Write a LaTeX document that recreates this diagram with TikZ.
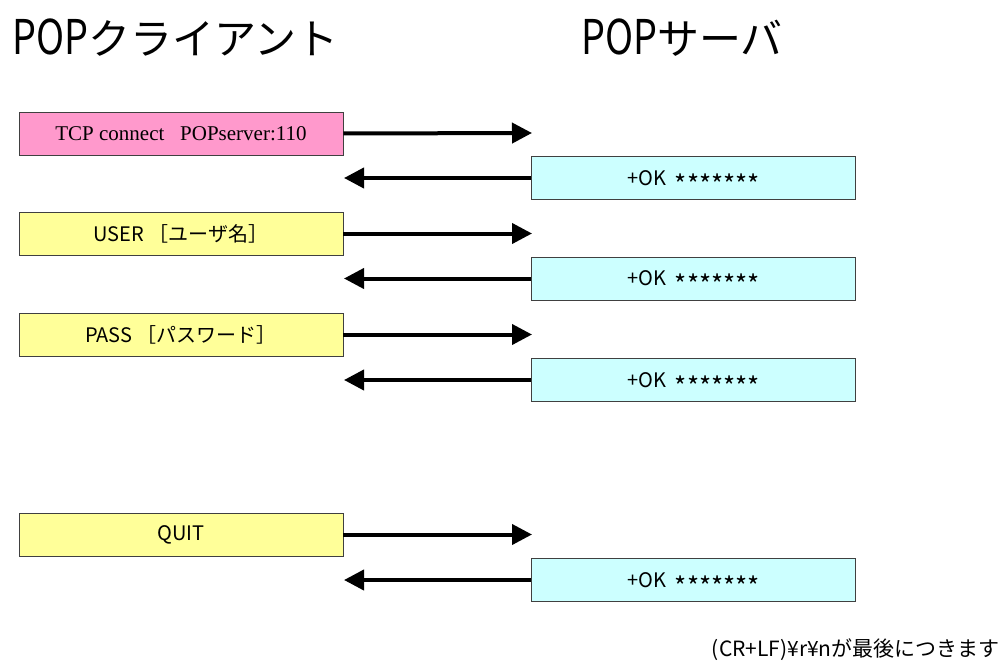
\documentclass[tikz,border=0pt]{standalone}
\usepackage{graphicx}
\usepackage{fontspec}
\setmainfont{Liberation Serif}
\newfontfamily\jp{Noto Sans CJK JP}
\usetikzlibrary{arrows.meta}
\definecolor{reqpink}{HTML}{FF99CC}
\definecolor{reqyellow}{HTML}{FFFF99}
\definecolor{respcyan}{HTML}{CCFFFF}
\definecolor{boxedge}{HTML}{404040}
% narrow, tall Latin letters for the headings
\newcommand\hwlatin[1]{\scalebox{0.9}[1.14]{#1}}
% larger asterisks set on the middle of the line
\newcommand\stars{\smash{\raisebox{-0.45em}{\scalebox{1.3}{*******}}}}
\tikzset{
  msgbox/.style={draw=boxedge, line width=0.9pt, minimum width=324pt, minimum height=43pt,
    inner sep=0pt, font=\jp\fontsize{20}{20}\selectfont},
  client/.style={msgbox, fill=reqyellow},
  server/.style={msgbox, fill=respcyan},
  msg/.style={line width=4pt, -{Triangle[length=20pt,width=20pt]}},
  title/.style={anchor=base west, inner sep=0pt, font=\jp\fontsize{42}{42}\selectfont}
}
\begin{document}
\begin{tikzpicture}[x=1pt,y=-1pt]
  \useasboundingbox (0,0) rectangle (1004,666);

  % column headings
  \node[title] (hc) at (12,55) {\hwlatin{POP}クライアント};
  \node[title] (hs) at (581,55) {\hwlatin{POP}サーバ};

  % connection
  \node[client, fill=reqpink, font=\fontsize{21}{21}\selectfont] (c1) at (181,133.5) {TCP connect\ \ \ POPserver:110};
  \node[server] (s1) at (693.5,178) {+OK\ \ \stars};
  \coordinate (t1) at (532,133);
  \coordinate (r1) at (344,178);
  \draw[msg] (c1.east) -- (t1);
  \draw[msg] (s1.west) -- (r1);

  % user name
  \node[client] (c2) at (181,233.5) {USER ［ユーザ名］};
  \node[server] (s2) at (693.5,278.5) {+OK\ \ \stars};
  \coordinate (t2) at (532,233.5);
  \coordinate (r2) at (344,278.5);
  \draw[msg] (c2.east) -- (t2);
  \draw[msg] (s2.west) -- (r2);

  % password
  \node[client] (c3) at (181,334.5) {PASS ［パスワード］};
  \node[server] (s3) at (693.5,380) {+OK\ \ \stars};
  \coordinate (t3) at (532,334.5);
  \coordinate (r3) at (344,380);
  \draw[msg] (c3.east) -- (t3);
  \draw[msg] (s3.west) -- (r3);

  % quit
  \node[client] (c4) at (181,534.5) {QUIT};
  \node[server] (s4) at (693.5,580) {+OK\ \ \stars};
  \coordinate (t4) at (532,534.5);
  \coordinate (r4) at (344,580);
  \draw[msg] (c4.east) -- (t4);
  \draw[msg] (s4.west) -- (r4);

  % footnote
  \node[anchor=base east, inner sep=0pt, font=\jp\fontsize{21}{21}\selectfont] (note) at (1000,656) {(CR+LF)¥r¥nが最後につきます};
\end{tikzpicture}
\end{document}
